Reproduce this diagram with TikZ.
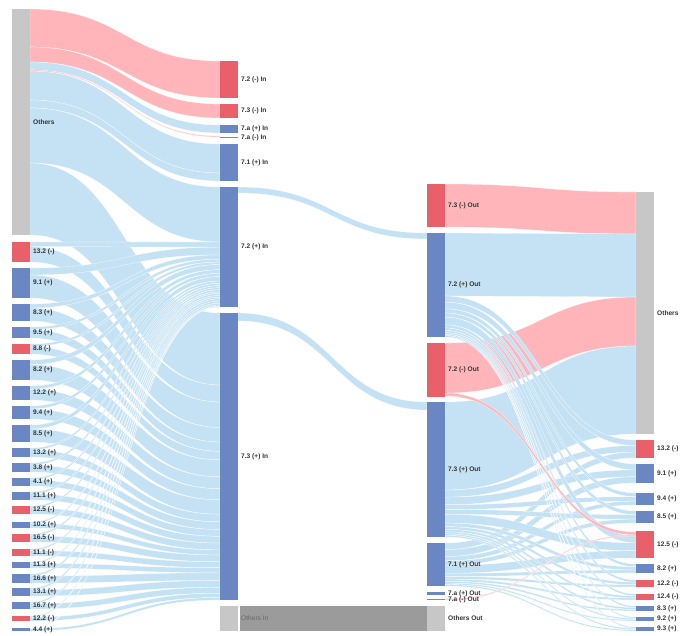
\documentclass[tikz,border=0pt]{standalone}
\usepackage{fontspec}
\setmainfont{Liberation Sans}
\usetikzlibrary{calc}

\definecolor{nodeblue}{HTML}{6A87C3}
\definecolor{nodered}{HTML}{E8616A}
\definecolor{nodegray}{HTML}{C7C7C7}
\definecolor{bandblue}{HTML}{C4E2F3}
\definecolor{bandpink}{HTML}{FFB5BA}
\definecolor{bandgray}{HTML}{9B9B9B}

\tikzset{
  bar/.style={rectangle, inner sep=0pt, outer sep=0pt, minimum width=18pt, draw=none},
  lbl/.style={anchor=west, inner sep=0pt, xshift=3pt, font=\fontsize{6.6}{8}\selectfont\bfseries, text=black!80},
  bandB/.style={fill=bandblue, draw=white, line width=0.2pt},
  bandR/.style={fill=bandpink, draw=white, line width=0.2pt},
}
% band from (x1, a1..a2) to (x2, b1..b2)
\newcommand{\flow}[7]{%
  \path[#1] (#2,#3) .. controls ({(#2+#5)/2},#3) and ({(#2+#5)/2},#6) .. (#5,#6)
    -- (#5,#7) .. controls ({(#2+#5)/2},#7) and ({(#2+#5)/2},#4) .. (#2,#4) -- cycle;}
% bar with its label
\newcommand{\nodebar}[6]{%
  \node[bar, fill=#2, minimum height={(#5-#4)*1pt}] (#1) at ({#3+9}, {(#4+#5)/2}) {};
  \node[lbl] at (#1.east) {#6};}

\begin{document}
\begin{tikzpicture}[x=1pt,y=-1pt]
  \useasboundingbox (0,0) rectangle (680,636);

  \def\smallL{l132m/nodered/242/262/13.2 (-), l91p/nodeblue/268/298/9.1 (+),
    l83p/nodeblue/304/321/8.3 (+), l95p/nodeblue/327/338/9.5 (+),
    l88m/nodered/344/354/8.8 (-), l82p/nodeblue/360/380/8.2 (+),
    l122p/nodeblue/386/400/12.2 (+), l94p/nodeblue/406/419/9.4 (+),
    l85p/nodeblue/425/442/8.5 (+), l132p/nodeblue/448/457/13.2 (+),
    l38p/nodeblue/463/472/3.8 (+), l41p/nodeblue/478/486/4.1 (+),
    l111p/nodeblue/492/500/11.1 (+), l125m/nodered/506/514/12.5 (-),
    l102p/nodeblue/522/528/10.2 (+), l165m/nodered/534/542/16.5 (-),
    l111m/nodered/549/556/11.1 (-), l113p/nodeblue/562/568/11.3 (+),
    l166p/nodeblue/574/583/16.6 (+), l131p/nodeblue/588/596/13.1 (+),
    l167p/nodeblue/602/609/16.7 (+), l122m/nodered/616/621/12.2 (-),
    l44p/nodeblue/628/631/4.4 (+)}

  %%%%% left -> In %%%%%
  \flow{bandR}{30}{9}{47}{220}{61}{98}
  \flow{bandR}{30}{47}{62}{220}{104}{118}
  \flow{bandB}{30}{62}{70}{220}{125}{133}
  \flow{bandB}{30}{71}{100}{220}{144}{173}
  \flow{bandB}{30}{100}{108}{220}{173}{181}
  \flow{bandB}{30}{108}{163}{220}{187}{242}
  \flow{bandB}{30}{163}{235}{220}{313}{385}
  \flow{bandR}{30}{70}{71}{220}{136}{137}

  \xdef\accA{242}\xdef\accB{385}
  \foreach \nm/\col/\ya/\yb/\txt in \smallL {
    \pgfmathsetmacro\ymid{\ya+0.232*(\yb-\ya)}
    \pgfmathsetmacro\endA{\accA+0.257*(\yb-\ya)}
    \pgfmathsetmacro\endB{\accB+0.850*(\yb-\ya)}
    \flow{bandB}{30}{\ya}{\ymid}{220}{\accA}{\endA}
    \flow{bandB}{30}{\ymid}{\yb}{220}{\accB}{\endB}
    \xdef\accA{\endA}\xdef\accB{\endB}
  }

  %%%%% In -> Out %%%%%
  \flow{bandB}{238}{187}{193}{427}{233}{239}
  \flow{bandB}{238}{313}{321}{427}{402}{410}
  \fill[bandgray] (240,606) rectangle (427,631);

  %%%%% Out -> right %%%%%
  \flow{bandR}{445}{184}{227}{636}{192}{234}
  \flow{bandB}{445}{233}{296}{636}{234}{297}
  \flow{bandR}{445}{343}{393}{636}{297}{346}
  \flow{bandB}{445}{402}{490}{636}{346}{434}

  \xdef\accP{296}\xdef\accQ{490}\xdef\accR{543}
  \foreach \ya/\yb in {440/458, 464/483, 493/505, 511/523, 536/558, 564/573,
      580/587, 594/600, 606/611, 617/621, 627/631} {
    \pgfmathsetmacro\tgA{\ya+(\yb-\ya)*41/131}
    \pgfmathsetmacro\tgB{\tgA+(\yb-\ya)*47/131}
    \pgfmathsetmacro\endP{\accP+(\yb-\ya)*41/118}
    \pgfmathsetmacro\endQ{\accQ+(\yb-\ya)*47/118}
    \pgfmathsetmacro\endR{\accR+(\yb-\ya)*43/118}
    \flow{bandB}{445}{\accP}{\endP}{636}{\ya}{\tgA}
    \flow{bandB}{445}{\accQ}{\endQ}{636}{\tgA}{\tgB}
    \flow{bandB}{445}{\accR}{\endR}{636}{\tgB}{\yb}
    \xdef\accP{\endP}\xdef\accQ{\endQ}\xdef\accR{\endR}
  }
  \flow{bandR}{445}{393}{396}{636}{532}{535}
  \flow{bandR}{445}{599}{600}{636}{535}{536}

  %%%%% bars %%%%%
  \nodebar{lOth}{nodegray}{12}{9}{235}{Others}
  \foreach \nm/\col/\ya/\yb/\txt in \smallL {
    \nodebar{\nm}{\col}{12}{\ya}{\yb}{\txt}
  }

  \nodebar{c72m}{nodered}{220}{61}{98}{7.2 (-) In}
  \nodebar{c73m}{nodered}{220}{104}{118}{7.3 (-) In}
  \nodebar{cAp}{nodeblue}{220}{125}{133}{7.a (+) In}
  \nodebar{cAm}{nodered}{220}{137}{138}{7.a (-) In}
  \nodebar{c71p}{nodeblue}{220}{144}{181}{7.1 (+) In}
  \nodebar{c72p}{nodeblue}{220}{187}{307}{7.2 (+) In}
  \nodebar{c73p}{nodeblue}{220}{313}{600}{7.3 (+) In}
  \nodebar{cOth}{nodegray}{220}{606}{631}{}
  \node[lbl, font=\fontsize{6.6}{8}\selectfont, text=black!60] at (cOth.east) {Others In};

  \nodebar{d73m}{nodered}{427}{184}{227}{7.3 (-) Out}
  \nodebar{d72p}{nodeblue}{427}{233}{337}{7.2 (+) Out}
  \nodebar{d72m}{nodered}{427}{343}{397}{7.2 (-) Out}
  \nodebar{d73p}{nodeblue}{427}{402}{537}{7.3 (+) Out}
  \nodebar{d71p}{nodeblue}{427}{543}{586}{7.1 (+) Out}
  \nodebar{dAp}{nodeblue}{427}{592}{595}{7.a (+) Out}
  \nodebar{dAm}{nodered}{427}{599}{600}{7.a (-) Out}
  \nodebar{dOth}{nodegray}{427}{606}{631}{Others Out}

  \foreach \nm/\col/\ya/\yb/\txt in {rOth/nodegray/192/434/Others,
      r132m/nodered/440/458/13.2 (-), r91p/nodeblue/464/483/9.1 (+),
      r94p/nodeblue/493/505/9.4 (+), r85p/nodeblue/511/523/8.5 (+),
      r125m/nodered/531/558/12.5 (-), r82p/nodeblue/564/573/8.2 (+),
      r122m/nodered/580/587/12.2 (-), r124m/nodered/594/600/12.4 (-),
      r83p/nodeblue/606/611/8.3 (+), r92p/nodeblue/617/621/9.2 (+),
      r93p/nodeblue/627/631/9.3 (+)} {
    \nodebar{\nm}{\col}{636}{\ya}{\yb}{\txt}
  }
\end{tikzpicture}
\end{document}
